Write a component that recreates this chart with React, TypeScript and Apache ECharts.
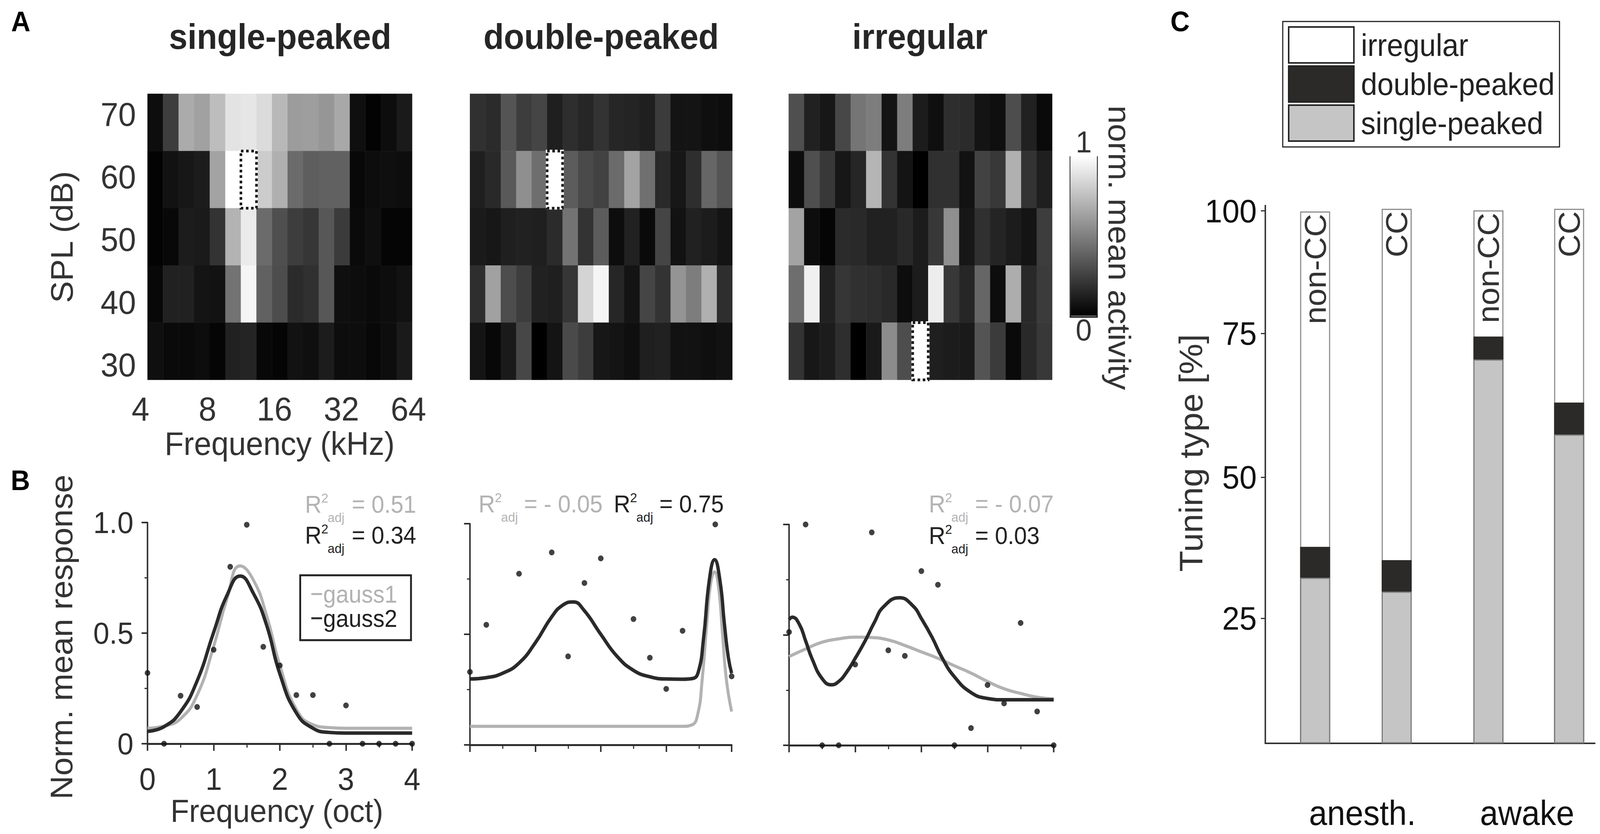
import { useEffect, useRef } from "react";
import * as echarts from "echarts";

const FONT = "Liberation Sans";
const WIDTH = 4317;
const HEIGHT = 2134;

// Panel A
const freqBins = ["4", "4.8", "5.7", "6.7", "8", "9.5", "11.3", "13.5", "16", "19", "22.6", "26.9", "32", "38", "45.3", "53.8", "64"];
const splLevels = ["30", "40", "50", "60", "70"];

// rows listed from 70 dB down to 30 dB
const singleRows = [
  [0.05, 0.24, 0.67, 0.63, 0.74, 0.89, 0.9, 0.86, 0.72, 0.61, 0.62, 0.59, 0.66, 0.06, 0.01, 0.05, 0.1],
  [0.01, 0.07, 0.09, 0.11, 0.64, 1, 1, 0.8, 0.69, 0.42, 0.37, 0.38, 0.38, 0.03, 0.05, 0.06, 0.05],
  [0.01, 0.03, 0.11, 0.1, 0.2, 0.7, 0.92, 0.42, 0.31, 0.24, 0.21, 0.34, 0.23, 0.04, 0.06, 0.02, 0.02],
  [0.03, 0.13, 0.13, 0.08, 0.07, 0.45, 0.96, 0.38, 0.3, 0.17, 0.19, 0.34, 0.06, 0.05, 0.04, 0.05, 0.07],
  [0.06, 0.04, 0.04, 0.05, 0.02, 0.13, 0.14, 0.03, 0.02, 0.07, 0.06, 0.11, 0.05, 0.05, 0.03, 0.05, 0.1],
];
const doubleRows = [
  [0.19, 0.17, 0.33, 0.24, 0.27, 0.12, 0.18, 0.15, 0.2, 0.15, 0.14, 0.12, 0.23, 0.08, 0.08, 0.06, 0.05],
  [0.12, 0.16, 0.35, 0.56, 0.43, 1, 0.36, 0.29, 0.26, 0.42, 0.64, 0.44, 0.16, 0.09, 0.18, 0.4, 0.33],
  [0.1, 0.09, 0.12, 0.13, 0.12, 0.17, 0.45, 0.2, 0.36, 0.05, 0.13, 0.04, 0.27, 0.07, 0.13, 0.11, 0.08],
  [0.18, 0.63, 0.3, 0.24, 0.13, 0.12, 0.21, 0.83, 0.96, 0.15, 0.08, 0.27, 0.2, 0.58, 0.49, 0.69, 0.18],
  [0.08, 0.03, 0.1, 0.28, 0, 0.08, 0.29, 0.24, 0.09, 0.08, 0.06, 0.12, 0.13, 0.07, 0.07, 0.06, 0.07],
];
const irregularRows = [
  [0.31, 0.13, 0.09, 0.28, 0.46, 0.49, 0.08, 0.49, 0.11, 0.06, 0.18, 0.17, 0.08, 0.06, 0.3, 0.13, 0.04],
  [0.05, 0.31, 0.22, 0.09, 0.15, 0.71, 0.2, 0.08, 0, 0.19, 0.19, 0.07, 0.26, 0.22, 0.69, 0.2, 0.12],
  [0.64, 0.05, 0.02, 0.17, 0.16, 0.13, 0.13, 0.16, 0.11, 0.22, 0.56, 0.09, 0.19, 0.14, 0.11, 0.08, 0.24],
  [0.43, 0.94, 0.13, 0.21, 0.19, 0.18, 0.16, 0.05, 0.11, 0.93, 0.22, 0.15, 0.4, 0.05, 0.68, 0.16, 0.23],
  [0.2, 0.09, 0.11, 0.18, 0, 0.1, 0.55, 0.3, 1, 0.12, 0.11, 0.1, 0.33, 0.23, 0.04, 0.16, 0.22],
];
const bestCells = [[6, 3], [5, 3], [8, 0]];

// Panel B, single-peaked
const b1DotX = [0, 0.25, 0.5, 0.75, 1, 1.25, 1.5, 1.75, 2, 2.25, 2.5, 2.75, 3, 3.25, 3.5, 3.75, 4];
const b1DotY = [0.32, 0, 0.217, 0.166, 0.425, 0.8, 0.99, 0.438, 0.354, 0.22, 0.22, 0, 0.173, 0, 0, 0, 0];
const b1LineX = [0, 0.25, 0.5, 0.75, 1, 1.2, 1.4, 1.6, 1.8, 2, 2.25, 2.5, 2.75, 3, 4];
const b1Gauss1 = [0.07, 0.08, 0.113, 0.22, 0.44, 0.654, 0.804, 0.74, 0.58, 0.354, 0.155, 0.086, 0.073, 0.07, 0.07];
const b1Gauss2 = [0.056, 0.077, 0.145, 0.284, 0.504, 0.67, 0.758, 0.68, 0.536, 0.316, 0.139, 0.07, 0.051, 0.048, 0.048];

// Panel B, double-peaked
const b2DotX = [0, 0.25, 0.75, 1.25, 1.5, 1.75, 2, 2.5, 2.75, 3, 3.25, 3.75, 4];
const b2DotY = [0.33, 0.543, 0.774, 0.87, 0.4, 0.732, 0.843, 0.569, 0.394, 0.253, 0.516, 0.997, 0.31];
const b2Gauss1X = [0, 3.25, 3.39, 3.48, 3.55, 3.62, 3.68, 3.74, 3.8, 3.86, 3.92, 4];
const b2Gauss1 = [0.084, 0.084, 0.09, 0.136, 0.295, 0.546, 0.73, 0.782, 0.714, 0.504, 0.295, 0.151];
const b2Gauss2X = [0, 0.25, 0.5, 0.75, 1, 1.25, 1.42, 1.58, 1.74, 2, 2.25, 2.5, 2.75, 3, 3.25, 3.4, 3.49, 3.57, 3.66, 3.74, 3.82, 3.89, 3.95, 4];
const b2Gauss2 = [0.298, 0.304, 0.324, 0.37, 0.462, 0.579, 0.632, 0.646, 0.61, 0.5, 0.4, 0.337, 0.308, 0.298, 0.297, 0.3, 0.329, 0.479, 0.747, 0.837, 0.747, 0.546, 0.395, 0.324];

// Panel B, irregular
const b3DotX = [0, 0.25, 0.5, 0.75, 1, 1.25, 1.5, 1.75, 2, 2.25, 2.5, 2.75, 3, 3.25, 3.5, 3.75, 4];
const b3DotY = [0.513, 1, 0, 0, 0.366, 0.964, 0.43, 0.405, 0.789, 0.727, 0, 0.078, 0.273, 0.19, 0.554, 0.153, 0];
const b3Gauss1X = [0, 0.25, 0.5, 0.75, 1, 1.25, 1.5, 1.75, 2, 2.25, 2.5, 2.75, 3, 3.25, 3.5, 3.75, 4];
const b3Gauss1 = [0.402, 0.436, 0.467, 0.482, 0.49, 0.488, 0.477, 0.452, 0.423, 0.394, 0.36, 0.327, 0.289, 0.256, 0.235, 0.218, 0.21];
const b3Gauss2X = [0, 0.05, 0.155, 0.25, 0.35, 0.5, 0.64, 0.75, 0.87, 1, 1.15, 1.29, 1.43, 1.67, 1.87, 2, 2.16, 2.31, 2.5, 2.75, 3, 3.25, 4];
const b3Gauss2 = [0.569, 0.58, 0.548, 0.473, 0.39, 0.302, 0.274, 0.289, 0.331, 0.394, 0.473, 0.557, 0.628, 0.668, 0.632, 0.574, 0.49, 0.398, 0.31, 0.239, 0.212, 0.206, 0.206];

// Panel C: where each segment of a bar ends, bars overlap from the back
const barX = [1, 2, 3.125, 4.115];
const barLabels = ["non-CC", "CC", "non-CC", "CC"];
const singlePeakedTop = [31.1, 28.5, 72.1, 58];
const doublePeakedTop = [36.9, 34.4, 76.4, 64];
const irregularTop = [99.9, 100.4, 100.1, 100.4];
const tuningTicks = [23.5, 50, 77, 100];
const tuningTickLabels = ["25", "50", "75", "100"];
const groupX = [1.58, 3.6];
const groupLabels = ["anesth.", "awake"];

const GREY_LINE = "#b2b2b2";
const DARK_LINE = "#2a2a2a";

function heatmapCells(rows: number[][]) {
  const cells: number[][] = [];
  rows.forEach((row, r) => {
    row.forEach((v, c) => {
      cells.push([c, rows.length - 1 - r, v]);
    });
  });
  return cells;
}

function zip(xs: number[], ys: number[]) {
  return xs.map((x, i) => [x, ys[i]]);
}

function txt(text: string, x: number, y: number, fontSize: number, fill: string, extra: any = {}) {
  const { rotation, ...style } = extra;
  return {
    type: "text",
    x,
    y,
    rotation: rotation || 0,
    silent: true,
    style: {
      text,
      fontSize,
      fontFamily: FONT,
      fill,
      align: "left",
      verticalAlign: "alphabetic",
      ...style,
    },
  };
}

// R², with the 2 and the "adj" stacked behind the R
function r2Label(rx: number, eqx: number, base: number, value: string, fill: string) {
  return [
    txt("R", rx, base, 62, fill, { verticalAlign: "bottom", lineHeight: 62 }),
    txt("2", rx + 44, base - 30, 34, fill, { verticalAlign: "bottom", lineHeight: 34 }),
    txt("adj", rx + 61, base + 20, 34, fill, { verticalAlign: "bottom", lineHeight: 34 }),
    txt("= " + value, eqx, base, 62, fill, { verticalAlign: "bottom", lineHeight: 62 }),
  ];
}

function hiddenCategory(gridIndex: number, data: string[]) {
  return { type: "category", gridIndex, data, show: false };
}

function bXAxis(gridIndex: number, labels: boolean) {
  return {
    type: "value",
    gridIndex,
    min: 0,
    max: 4,
    interval: 1,
    splitLine: { show: false },
    axisLine: { onZero: false, lineStyle: { color: "#2e2e2e", width: 5 } },
    axisTick: { length: 18, lineStyle: { color: "#2e2e2e", width: 4 } },
    minorTick: { show: true, splitNumber: 2, length: 10, lineStyle: { color: "#2e2e2e", width: 3 } },
    axisLabel: { show: labels, fontSize: 80, fontFamily: FONT, color: "#2e2e2e", margin: 50 },
    ...(labels
      ? {
          name: "Frequency (oct)",
          nameLocation: "middle",
          nameGap: 125,
          nameTextStyle: { fontSize: 82, fontFamily: FONT, color: "#333", padding: [0, 16, 0, 0] },
        }
      : {}),
  };
}

function bYAxis(gridIndex: number, labels: boolean) {
  return {
    type: "value",
    gridIndex,
    min: 0,
    max: 1,
    interval: 0.5,
    splitLine: { show: false },
    axisLine: { onZero: false, lineStyle: { color: "#2e2e2e", width: 4 } },
    axisTick: { length: 16, lineStyle: { color: "#2e2e2e", width: 4 } },
    minorTick: { show: true, splitNumber: 2, length: 8, lineStyle: { color: "#2e2e2e", width: 3 } },
    axisLabel: {
      show: labels,
      fontSize: 78,
      fontFamily: FONT,
      color: "#2e2e2e",
      margin: 38,
      formatter: (v: number) => (v === 0 ? "0" : v.toFixed(1)),
    },
    ...(labels
      ? {
          name: "Norm. mean response",
          nameLocation: "middle",
          nameGap: 190,
          nameTextStyle: { fontSize: 84, fontFamily: FONT, color: "#333", padding: [0, 20, 0, 0] },
        }
      : {}),
  };
}

function fitLine(name: string, axis: number, data: number[][], color: string, width: number) {
  return {
    type: "line",
    name,
    xAxisIndex: axis,
    yAxisIndex: axis,
    data,
    smooth: 0.5,
    symbol: "none",
    clip: false,
    itemStyle: { color },
    lineStyle: { color, width },
  };
}

function dots(axis: number, data: number[][]) {
  return {
    type: "scatter",
    xAxisIndex: axis,
    yAxisIndex: axis,
    data,
    symbolSize: 15,
    clip: false,
    z: 5,
    itemStyle: { color: "#111" },
  };
}

function heatmap(axis: number, rows: number[][]) {
  return {
    type: "heatmap",
    xAxisIndex: axis,
    yAxisIndex: axis,
    data: heatmapCells(rows),
  };
}

function bestCell(axis: number, cell: number[]) {
  return {
    type: "custom",
    xAxisIndex: axis,
    yAxisIndex: axis,
    data: [cell],
    z: 6,
    silent: true,
    renderItem: (_: any, api: any) => {
      const p = api.coord([api.value(0), api.value(1)]);
      const s = api.size([1, 1]);
      const shape = { x: p[0] - s[0] / 2, y: p[1] - s[1] / 2, width: s[0], height: s[1] };
      return {
        type: "group",
        children: [
          { type: "rect", shape, style: { fill: "none", stroke: "#fff", lineWidth: 7 } },
          { type: "rect", shape, style: { fill: "none", stroke: "#1a1a1a", lineWidth: 7, lineDash: [7, 7] } },
        ],
      };
    },
  };
}

export default function App() {
  const chartRef = useRef<HTMLDivElement>(null);

  useEffect(() => {
    if (!chartRef.current) return;
    const chart = echarts.init(chartRef.current, null, { renderer: "svg" });

    chart.setOption({
      animation: false,
      backgroundColor: "#fff",
      textStyle: { fontFamily: FONT },
      grid: [
        { left: 398, top: 240, width: 714, height: 732 },
        { left: 1268, top: 240, width: 708, height: 732 },
        { left: 2128, top: 240, width: 711, height: 732 },
        { left: 379, top: 292, width: 723, height: 641 },
        { left: 398, top: 1337, width: 714, height: 566 },
        { left: 1268, top: 1340, width: 706, height: 566 },
        { left: 2129, top: 1342, width: 714, height: 565 },
        { left: 3414, top: 526, width: 889, height: 1376 },
      ],
      xAxis: [
        hiddenCategory(0, freqBins),
        hiddenCategory(1, freqBins),
        hiddenCategory(2, freqBins),
        {
          type: "log",
          logBase: 2,
          gridIndex: 3,
          min: 4,
          max: 64,
          splitLine: { show: false },
          minorTick: { show: false },
          axisLine: { show: false },
          axisTick: { show: false },
          axisLabel: { fontSize: 86, fontFamily: FONT, color: "#333", margin: 70 },
          name: "Frequency (kHz)",
          nameLocation: "middle",
          nameGap: 160,
          nameTextStyle: { fontSize: 84, fontFamily: FONT, color: "#333", padding: [0, 0, 0, 28] },
        },
        bXAxis(4, true),
        bXAxis(5, false),
        bXAxis(6, false),
        {
          type: "value",
          gridIndex: 7,
          min: 0.389,
          max: 4.43,
          splitLine: { show: false },
          axisLine: { onZero: false, lineStyle: { color: "#333", width: 4 } },
          axisTick: { show: false },
          axisLabel: {
            customValues: groupX,
            fontSize: 88,
            fontFamily: FONT,
            color: "#111",
            margin: 134,
            formatter: (v: number) => groupLabels[groupX.indexOf(v)],
          },
        },
      ],
      yAxis: [
        hiddenCategory(0, splLevels),
        hiddenCategory(1, splLevels),
        hiddenCategory(2, splLevels),
        {
          type: "value",
          gridIndex: 3,
          min: 30,
          max: 70,
          interval: 10,
          splitLine: { show: false },
          axisLine: { show: false },
          axisTick: { show: false },
          axisLabel: { fontSize: 86, fontFamily: FONT, color: "#333", margin: 12 },
          name: "SPL (dB)",
          nameLocation: "middle",
          nameGap: 170,
          nameTextStyle: { fontSize: 84, fontFamily: FONT, color: "#333", padding: [0, 0, 0, 12] },
        },
        bYAxis(4, true),
        bYAxis(5, false),
        bYAxis(6, false),
        {
          type: "value",
          gridIndex: 7,
          min: 0,
          max: 101,
          splitLine: { show: false },
          axisLine: { onZero: false, lineStyle: { color: "#333", width: 4 } },
          axisTick: { customValues: tuningTicks, length: 12, lineStyle: { color: "#333", width: 3 } },
          axisLabel: {
            customValues: tuningTicks,
            fontSize: 84,
            fontFamily: FONT,
            color: "#111",
            margin: 23,
            formatter: (v: number) => tuningTickLabels[tuningTicks.indexOf(v)],
          },
        },
      ],
      visualMap: {
        type: "continuous",
        seriesIndex: [0, 1, 2],
        min: 0,
        max: 1,
        left: 2888,
        top: 324,
        padding: 0,
        itemWidth: 72,
        itemHeight: 409,
        text: ["1", "0"],
        textGap: -3,
        textStyle: { fontSize: 78, fontFamily: FONT, color: "#333" },
        inRange: { color: ["#000000", "#ffffff"] },
        calculable: false,
        realtime: false,
      },
      legend: [
        {
          orient: "vertical",
          left: 810,
          top: 1472,
          padding: [17, 37, 25, 30],
          borderColor: "#222",
          borderWidth: 5,
          itemWidth: 29,
          itemHeight: 5,
          itemGap: 0,
          selectedMode: false,
          icon: "rect",
          data: [
            { name: "gauss1", textStyle: { color: "#b2b2b2" } },
            { name: "gauss2", textStyle: { color: "#222" } },
          ],
          textStyle: { fontSize: 62, fontFamily: FONT, padding: [0, 0, 0, -2] },
        },
        {
          orient: "vertical",
          left: 3461,
          top: 55,
          padding: [12, 13, 13, 14],
          borderColor: "#222",
          borderWidth: 3,
          itemWidth: 176,
          itemHeight: 92,
          itemGap: 4,
          itemStyle: { borderColor: "#222", borderWidth: 4 },
          selectedMode: false,
          icon: "rect",
          data: ["irregular", "double-peaked", "single-peaked"],
          textStyle: { fontSize: 79, fontFamily: FONT, color: "#222", padding: [0, 0, 0, 14] },
        },
      ],
      series: [
        heatmap(0, singleRows),
        heatmap(1, doubleRows),
        heatmap(2, irregularRows),
        bestCell(0, bestCells[0]),
        bestCell(1, bestCells[1]),
        bestCell(2, bestCells[2]),
        fitLine("gauss1", 4, zip(b1LineX, b1Gauss1), GREY_LINE, 8),
        fitLine("gauss2", 4, zip(b1LineX, b1Gauss2), DARK_LINE, 9),
        dots(4, zip(b1DotX, b1DotY)),
        fitLine("gauss1", 5, zip(b2Gauss1X, b2Gauss1), GREY_LINE, 8),
        fitLine("gauss2", 5, zip(b2Gauss2X, b2Gauss2), DARK_LINE, 9),
        dots(5, zip(b2DotX, b2DotY)),
        fitLine("gauss1", 6, zip(b3Gauss1X, b3Gauss1), GREY_LINE, 8),
        fitLine("gauss2", 6, zip(b3Gauss2X, b3Gauss2), DARK_LINE, 9),
        dots(6, zip(b3DotX, b3DotY)),
        {
          type: "bar",
          name: "irregular",
          xAxisIndex: 7,
          yAxisIndex: 7,
          barWidth: 81,
          barGap: "-100%",
          data: zip(barX, irregularTop),
          itemStyle: { color: "#fff", borderColor: "#8c8c8c", borderWidth: 3 },
          label: {
            show: true,
            position: "insideTop",
            rotate: 90,
            align: "right",
            verticalAlign: "middle",
            distance: 6,
            fontSize: 82,
            fontFamily: FONT,
            color: "#333",
            formatter: (p: any) => barLabels[p.dataIndex],
          },
        },
        {
          type: "bar",
          name: "double-peaked",
          xAxisIndex: 7,
          yAxisIndex: 7,
          barWidth: 81,
          barGap: "-100%",
          data: zip(barX, doublePeakedTop),
          itemStyle: { color: "#2b2a29", borderColor: "#2b2a29", borderWidth: 1 },
        },
        {
          type: "bar",
          name: "single-peaked",
          xAxisIndex: 7,
          yAxisIndex: 7,
          barWidth: 81,
          barGap: "-100%",
          data: zip(barX, singlePeakedTop),
          itemStyle: { color: "#c4c5c4", borderColor: "#7d7d7d", borderWidth: 3 },
        },
      ],
      graphic: [
        txt("A", 30, 55, 72, "#000", { fontWeight: "bold", verticalAlign: "middle" }),
        txt("B", 29, 1229, 72, "#000", { fontWeight: "bold", verticalAlign: "middle" }),
        txt("C", 3158, 55, 72, "#000", { fontWeight: "bold", verticalAlign: "middle" }),
        txt("single-peaked", 756, 94, 90, "#262626", { fontWeight: "bold", align: "center", verticalAlign: "middle" }),
        txt("double-peaked", 1622, 94, 90, "#262626", { fontWeight: "bold", align: "center", verticalAlign: "middle" }),
        txt("irregular", 2482, 94, 90, "#262626", { fontWeight: "bold", align: "center", verticalAlign: "middle" }),
        txt("norm. mean activity", 3020, 634, 84, "#333", {
          rotation: -Math.PI / 2,
          align: "center",
          verticalAlign: "middle",
        }),
        txt("Tuning type [%]", 3213, 1159, 88, "#333", {
          rotation: Math.PI / 2,
          align: "center",
          verticalAlign: "middle",
        }),
        { type: "rect", silent: true, shape: { x: 2888, y: 402, width: 72, height: 409 }, style: { fill: "none", stroke: "#222", lineWidth: 4 } },
        ...r2Label(823, 949, 1321, "0.51", "#b3b3b3"),
        ...r2Label(823, 949, 1400, "0.34", "#222"),
        ...r2Label(1291, 1414, 1320, "- 0.05", "#b3b3b3"),
        ...r2Label(1656, 1779, 1320, "0.75", "#222"),
        ...r2Label(2506, 2631, 1320, "- 0.07", "#b3b3b3"),
        ...r2Label(2506, 2631, 1401, "0.03", "#222"),
      ],
    });

    return () => {
      chart.dispose();
    };
  }, []);

  // the browser window can be narrower than the reference, so fit the drawing into it
  const fit = `scale(${window.innerWidth / WIDTH}, ${window.innerHeight / HEIGHT})`;

  return (
    <div
      ref={chartRef}
      style={{
        position: "absolute",
        left: 0,
        top: 0,
        width: WIDTH,
        height: HEIGHT,
        transform: fit,
        transformOrigin: "0 0",
      }}
    />
  );
}
